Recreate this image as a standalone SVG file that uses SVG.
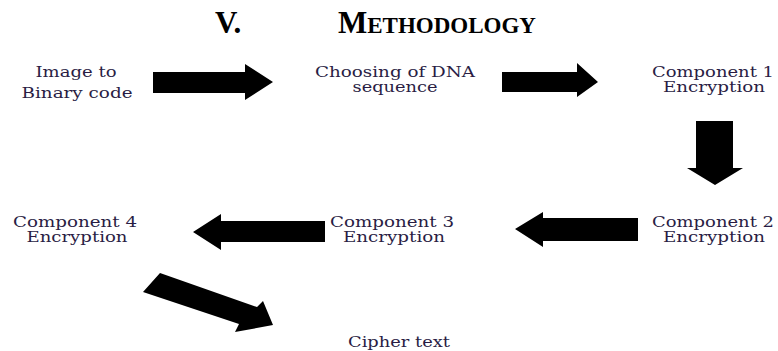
<svg xmlns="http://www.w3.org/2000/svg" width="778" height="351" viewBox="0 0 778 351">
<style>
.t{font-family:"DejaVu Serif","Liberation Serif",serif;font-size:14px;fill:#2a1d44;text-anchor:middle}
.h{font-family:"Liberation Serif","Times New Roman",serif;font-weight:bold;fill:#000}
.a{fill:#000}
</style>
<rect width="778" height="351" fill="#fff"/>
<g id="title">
<text class="h" x="215" y="33" font-size="31">V.</text>
<text class="h" x="338" y="33" font-size="31">M<tspan font-size="23">ETHODOLOGY</tspan></text>
</g>
<g id="n1"><text class="t" x="76" y="77" textLength="81" lengthAdjust="spacingAndGlyphs">Image to</text><text class="t" x="77" y="98" textLength="111" lengthAdjust="spacingAndGlyphs">Binary code</text></g>
<g id="n2"><text class="t" x="395" y="77" textLength="160" lengthAdjust="spacingAndGlyphs">Choosing of DNA</text><text class="t" x="395" y="92" textLength="85" lengthAdjust="spacingAndGlyphs">sequence</text></g>
<g id="n3"><text class="t" x="713" y="77" textLength="122" lengthAdjust="spacingAndGlyphs">Component 1</text><text class="t" x="714" y="92" textLength="102" lengthAdjust="spacingAndGlyphs">Encryption</text></g>
<g id="n4"><text class="t" x="713" y="227" textLength="122" lengthAdjust="spacingAndGlyphs">Component 2</text><text class="t" x="714" y="242" textLength="102" lengthAdjust="spacingAndGlyphs">Encryption</text></g>
<g id="n5"><text class="t" x="392" y="227" textLength="124" lengthAdjust="spacingAndGlyphs">Component 3</text><text class="t" x="394" y="242" textLength="102" lengthAdjust="spacingAndGlyphs">Encryption</text></g>
<g id="n6"><text class="t" x="75" y="227" textLength="124" lengthAdjust="spacingAndGlyphs">Component 4</text><text class="t" x="77" y="242" textLength="101" lengthAdjust="spacingAndGlyphs">Encryption</text></g>
<g id="n7"><text class="t" x="399" y="347" textLength="102" lengthAdjust="spacingAndGlyphs">Cipher text</text></g>
<g id="connectors">
<polygon class="a" points="153,72 245,72 245,64 273,82 245,100 245,93 153,93"/>
<polygon class="a" points="502,72 577,72 577,63 598,82 577,97 577,92 502,92"/>
<polygon class="a" points="696,121 733,121 733,168 743,168 715,185 687,168 696,168"/>
<polygon class="a" points="638,218 543,218 543,212 515,229 543,247 543,241 638,241"/>
<polygon class="a" points="325,221 221,221 221,214 193,232 221,250 221,242 325,242"/>
<polygon class="a" points="160,273 257,307 263,301 273,325 235,332 239,324 143,292"/>
</g>
</svg>
